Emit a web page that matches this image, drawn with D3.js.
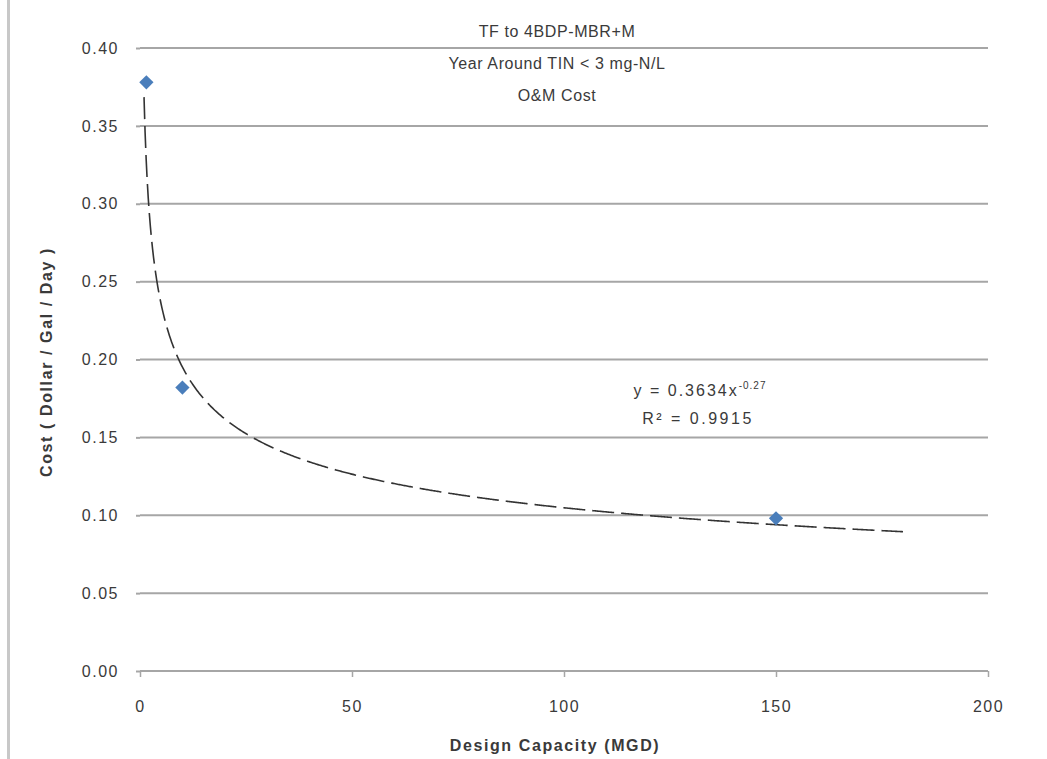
<!DOCTYPE html>
<html><head><meta charset="utf-8">
<script src="https://cdn.jsdelivr.net/npm/d3@7"></script>
<style>body{margin:0;background:#fff}svg{display:block}text{font-family:"Liberation Sans",Arial,sans-serif;fill:#3a3a3a}</style>
</head><body>
<script>
const capacity = [1.5, 10, 150];
const cost = [0.378, 0.182, 0.098];
const yTicks = [0, 0.05, 0.10, 0.15, 0.20, 0.25, 0.30, 0.35, 0.40];
const xTicks = [0, 50, 100, 150, 200];
const titleLines = ["TF to 4BDP-MBR+M", "Year Around TIN < 3 mg-N/L", "O&M Cost"];
const trendCoef = 0.3634, trendExp = -0.27;
const trendRange = [0.95, 180];
const eqLines = ["y = 0.3634x", "R² = 0.9915"];

const W = 1047, H = 759;
const svg = d3.select("body").append("svg").attr("width", W).attr("height", H);
const x = d3.scaleLinear().domain([0, 200]).range([140, 988]);
const y = d3.scaleLinear().domain([0, 0.40]).range([671, 48]);

// left border
svg.append("rect").attr("x", 7).attr("y", 0).attr("width", 3).attr("height", H).attr("fill", "#c8c8c8");

// gridlines
svg.append("g").selectAll("line").data(yTicks).join("line")
  .attr("x1", x(0)).attr("x2", x(200)).attr("y1", d => y(d)).attr("y2", d => y(d))
  .attr("stroke", "#a6a6a6").attr("stroke-width", 2);

// y axis
const ya = svg.append("g").attr("transform", `translate(${x(0)},0)`)
  .call(d3.axisLeft(y).tickValues(yTicks).tickFormat(d3.format(".2f")).tickSize(4).tickPadding(17));
ya.select(".domain").remove();
ya.selectAll("line").attr("stroke", "#a6a6a6").attr("stroke-width", 2);
ya.selectAll("text").style("font-size", "16px").style("letter-spacing", "1.5px").attr("fill", "#3a3a3a");

// x axis
const xa = svg.append("g").attr("transform", `translate(0,${y(0)})`)
  .call(d3.axisBottom(x).tickValues(xTicks).tickSize(6).tickPadding(24));
xa.select(".domain").remove();
xa.selectAll("line").attr("stroke", "#a6a6a6").attr("stroke-width", 1.5);
xa.selectAll("text").style("font-size", "16px").style("letter-spacing", "1.5px").attr("fill", "#3a3a3a");

// trendline
const tx = d3.range(trendRange[0], trendRange[1] + 0.01, 0.25);
const line = d3.line().x(d => x(d)).y(d => y(trendCoef * Math.pow(d, trendExp)));
svg.append("path").datum(tx).attr("d", line).attr("fill", "none")
  .attr("stroke", "#333").attr("stroke-width", 1.6).attr("stroke-dasharray", "22,7");

// points
svg.append("g").selectAll("path").data(capacity.map((c, i) => [c, cost[i]])).join("path")
  .attr("d", d3.symbol().type(d3.symbolDiamond2).size(130))
  .attr("transform", d => `translate(${x(d[0])},${y(d[1])})`)
  .attr("fill", "#4a7ebb");

// title
svg.append("g").selectAll("text").data(titleLines).join("text")
  .attr("x", 557).attr("y", (d, i) => 37 + i * 32).attr("text-anchor", "middle")
  .style("font-size", "16px").style("letter-spacing", "0.6px").text(d => d);

// equation
const eq = svg.append("text").attr("x", 700).attr("y", 396).attr("text-anchor", "middle")
  .style("font-size", "16px").style("letter-spacing", "2px");
eq.append("tspan").text(eqLines[0]);
eq.append("tspan").attr("dy", -7).style("font-size", "10px").style("letter-spacing", "1px").text("-0.27");
svg.append("text").attr("x", 698).attr("y", 424).attr("text-anchor", "middle")
  .style("font-size", "16px").style("letter-spacing", "2.5px").text(eqLines[1]);

// axis titles
svg.append("text").attr("x", 555).attr("y", 751).attr("text-anchor", "middle")
  .style("font-size", "16px").style("font-weight", "bold").style("letter-spacing", "1.6px").text("Design Capacity (MGD)");
svg.append("text").attr("transform", "translate(52,362) rotate(-90)").attr("text-anchor", "middle")
  .style("font-size", "16px").style("font-weight", "bold").style("letter-spacing", "1.6px").text("Cost ( Dollar / Gal / Day )");
</script>
</body></html>
